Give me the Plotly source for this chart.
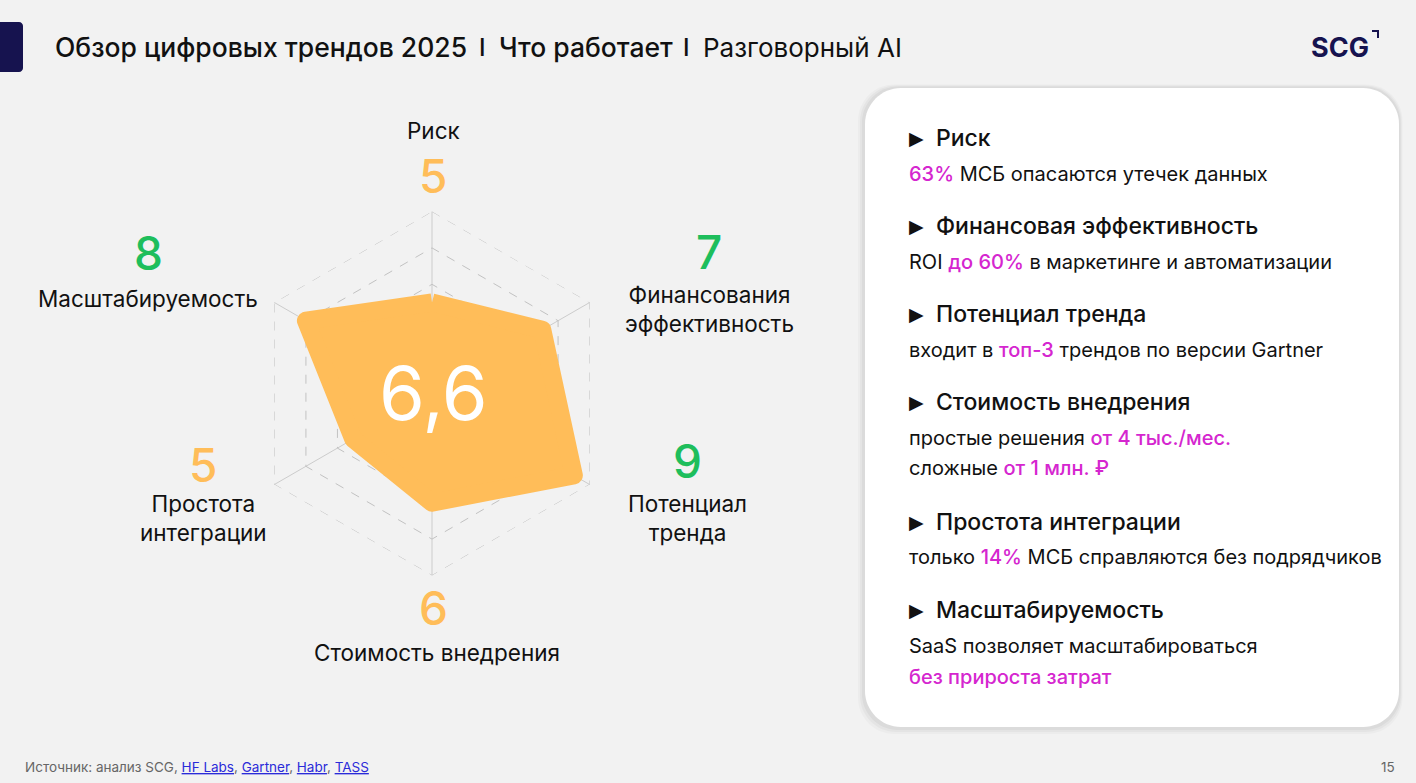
import plotly.graph_objects as go

W, H = 1416, 783

# radar data (clockwise from the top)
categories = ['Риск', 'Финансовая эффективность', 'Потенциал тренда',
              'Стоимость внедрения', 'Простота интеграции', 'Масштабируемость']
scores = [5, 7, 9, 6, 5, 8]
axis_labels = ['Риск', 'Финансования<br>эффективность', 'Потенциал<br>тренда',
               'Стоимость внедрения', 'Простота<br>интеграции', 'Масштабируемость']
overall = '6,6'
scale_max = 10

# right-hand panel
MAG = '#D526CF'
def hl(s):
    return f'<span style="color:{MAG};font-weight:500">{s}</span>'

panel_heads = ['Риск', 'Финансовая эффективность', 'Потенциал тренда',
               'Стоимость внедрения', 'Простота интеграции', 'Масштабируемость']
panel_notes = [
    [hl('63%') + ' МСБ опасаются утечек данных'],
    ['ROI ' + hl('до 60%') + ' в маркетинге и автоматизации'],
    ['входит в ' + hl('топ-3') + ' трендов по версии Gartner'],
    ['простые решения ' + hl('от 4 тыс./мес.'), 'сложные ' + hl('от 1 млн. ₽')],
    ['только ' + hl('14%') + ' МСБ справляются без подрядчиков'],
    ['SaaS позволяет масштабироваться', hl('без прироста затрат')],
]
sources = ['HF Labs', 'Gartner', 'Habr', 'TASS']
page_no = '15'

ORANGE = '#FFBD59'
GREEN = '#1EBE5C'
NAVY = '#16134F'
FONT = 'Inter'


def px(x):
    return x / W


def py(y):
    return 1 - y / H


def rounded(x0, y0, x1, y1, r):
    # rounded rectangle path in paper units, corners given in pixels
    k = 0.45
    pts = [
        f'M {px(x0 + r)},{py(y0)}',
        f'L {px(x1 - r)},{py(y0)}',
        f'C {px(x1 - r * k)},{py(y0)} {px(x1)},{py(y0 + r * k)} {px(x1)},{py(y0 + r)}',
        f'L {px(x1)},{py(y1 - r)}',
        f'C {px(x1)},{py(y1 - r * k)} {px(x1 - r * k)},{py(y1)} {px(x1 - r)},{py(y1)}',
        f'L {px(x0 + r)},{py(y1)}',
        f'C {px(x0 + r * k)},{py(y1)} {px(x0)},{py(y1 - r * k)} {px(x0)},{py(y1 - r)}',
        f'L {px(x0)},{py(y0 + r)}',
        f'C {px(x0)},{py(y0 + r * k)} {px(x0 + r * k)},{py(y0)} {px(x0 + r)},{py(y0)}',
        'Z',
    ]
    return ' '.join(pts)


fig = go.Figure()

# outer dashed ring of the scale
fig.add_trace(go.Scatterpolar(
    r=[scale_max] * (len(categories) + 1),
    theta=categories + categories[:1],
    mode='lines',
    line=dict(color='#c2c2c2', width=1, dash='dash'),
    hoverinfo='skip',
    showlegend=False,
))

fig.add_trace(go.Scatterpolar(
    r=scores + scores[:1],
    theta=categories + categories[:1],
    mode='lines',
    fill='toself',
    fillcolor=ORANGE,
    line=dict(color=ORANGE, width=18),
    hoverinfo='skip',
    showlegend=False,
))

cx, cy, rad = 432, 393.5, 182
fig.update_layout(
    polar=dict(
        domain=dict(x=[px(cx - rad), px(cx + rad)], y=[py(cy + rad), py(cy - rad)]),
        bgcolor='rgba(0,0,0,0)',
        gridshape='linear',
        radialaxis=dict(range=[0, scale_max], dtick=2, showticklabels=False, ticks='',
                        showline=False, gridcolor='#c2c2c2', griddash='dash', gridwidth=1),
        angularaxis=dict(rotation=90, direction='clockwise', showticklabels=False,
                         ticks='', showline=False, gridcolor='#cccccc', gridwidth=1),
    )
)

ann = []


def text(x, y, s, size, color='#111111', anchor='center', weight=None, family=FONT):
    f = dict(family=family, size=size, color=color)
    if weight:
        f['weight'] = weight
    ann.append(dict(x=px(x), y=py(y), xref='paper', yref='paper', text=s,
                    showarrow=False, xanchor=anchor, yanchor='middle',
                    align=anchor if anchor != 'center' else 'center', font=f))


# value numbers and axis labels around the radar
num_pos = [(433, 176), (709, 252), (687, 461), (433, 608), (203, 465), (148, 253)]
lab_pos = [(433, 131), (709, 309), (687, 518), (437, 652), (203, 518), (148, 298)]
for v, lab, (nx, ny), (lx, ly) in zip(scores, axis_labels, num_pos, lab_pos):
    text(nx, ny, str(v), 46, GREEN if v >= 7 else ORANGE, weight=500)
    text(lx, ly, lab, 22.5, '#111111')

text(433, 393, overall, 74, 'white', weight=400)

# title
text(53, 47, '<span style="font-weight:500">Обзор цифровых трендов 2025</span>', 26.5, anchor='left')
text(482, 47, 'I', 24, anchor='center', weight=500)
text(497, 47, '<span style="font-weight:500">Что работает</span>', 26.5, anchor='left')
text(686, 47, 'I', 24, anchor='center', weight=500)
text(701, 47, 'Разговорный AI', 26, anchor='left')

# logo
text(1340, 47, 'SCG', 27, NAVY, weight=700)

# panel contents
head_y = [138, 226, 314, 402, 522, 610]
note_y = [[174], [262], [350], [438, 468], [557], [646, 677]]
for hd, nt, hy, ny in zip(panel_heads, panel_notes, head_y, note_y):
    text(907, hy, '▶', 19, '#111111', anchor='left', family='DejaVu Sans')
    text(934, hy, hd, 23, '#111111', anchor='left', weight=500)
    for line, ly in zip(nt, ny):
        text(907, ly, line, 20, '#111111', anchor='left')

# footer
links = ', '.join(f'<span style="color:#2b2bd9;text-decoration:underline">{s}</span>'
                  for s in sources)
text(23, 767, 'Источник: анализ SCG, ' + links, 13.5, '#666666', anchor='left')
text(1388, 767, page_no, 13.5, '#666666')

fig.update_layout(annotations=ann)

shapes = []
# panel shadow layers and card
for off, alpha in [(7, 0.025), (5, 0.03), (3, 0.04)]:
    shapes.append(dict(type='path', xref='paper', yref='paper', layer='below',
                       path=rounded(865 - off, 88 - off / 2, 1399 + off / 2, 727 + off, 36),
                       fillcolor=f'rgba(0,0,0,{alpha})', line=dict(width=0)))
shapes.append(dict(type='path', xref='paper', yref='paper', layer='below',
                   path=rounded(865, 88, 1399, 727, 36),
                   fillcolor='white', line=dict(width=0)))
# navy tab at the left edge
shapes.append(dict(type='path', xref='paper', yref='paper', layer='below',
                   path=rounded(-10, 22, 23, 72, 4), fillcolor=NAVY, line=dict(width=0)))
# logo corner mark
shapes.append(dict(type='path', xref='paper', yref='paper',
                   path=f'M {px(1372)},{py(31)} L {px(1378)},{py(31)} L {px(1378)},{py(38)}',
                   line=dict(color=NAVY, width=2)))

fig.update_layout(
    shapes=shapes,
    width=W, height=H,
    margin=dict(l=0, r=0, t=0, b=0),
    paper_bgcolor='#F2F2F2',
    plot_bgcolor='#F2F2F2',
    font=dict(family=FONT),
    showlegend=False,
)

post = """
document.body.style.margin='0';
document.body.style.overflow='hidden';
document.querySelectorAll('path.js-line').forEach(function(p){p.style.strokeLinejoin='round';});
"""
fig.write_html("out.html", post_script=post, config={'displayModeBar': False})
